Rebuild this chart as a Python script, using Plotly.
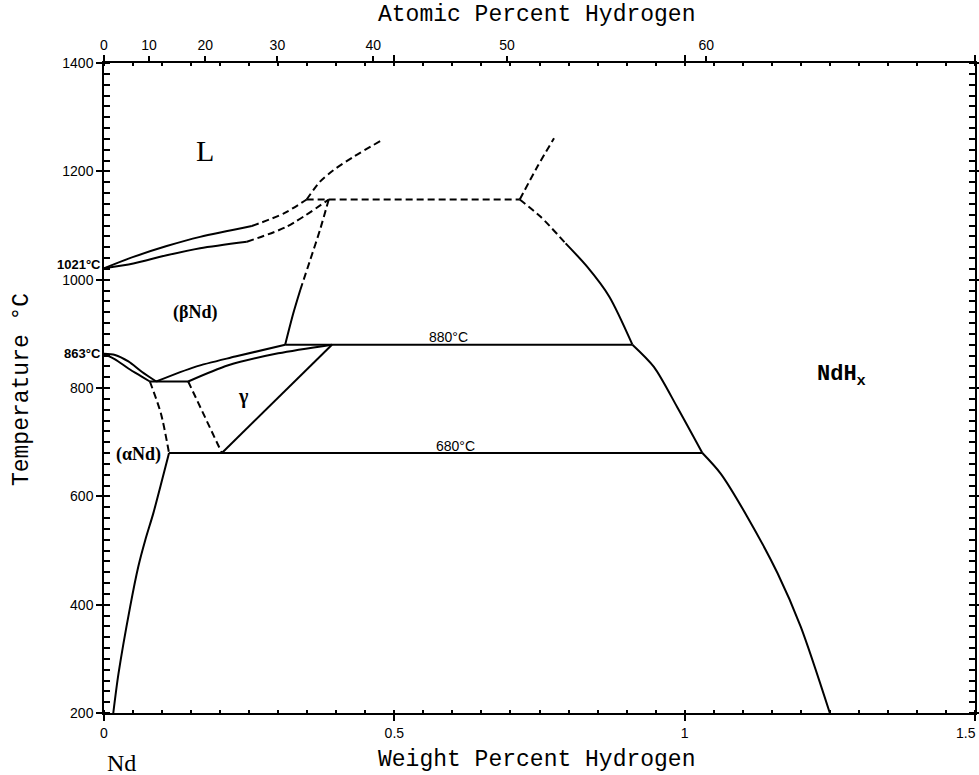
import plotly.graph_objects as go

# ---------------- data (weight % H, temperature °C) ----------------
liq_upper_solid_w = [0, 0.0506, 0.108, 0.1655, 0.2546]
liq_upper_solid_T = [1021, 1042, 1062, 1079, 1099]
liq_upper_dash_w = [0.2546, 0.309, 0.349]
liq_upper_dash_T = [1099, 1122, 1148]

sol_lower_solid_w = [0, 0.0506, 0.108, 0.1655, 0.246]
sol_lower_solid_T = [1021, 1030, 1045, 1058, 1070]
sol_lower_dash_w = [0.246, 0.315, 0.387]
sol_lower_dash_T = [1070, 1098, 1148]

liq_left_w = [0.349, 0.372, 0.395, 0.43, 0.476]
liq_left_T = [1148, 1181, 1202, 1227, 1256]
monotectic_w = [0.349, 0.716]
monotectic_T = [1148, 1148]
liq_right_w = [0.716, 0.746, 0.775]
liq_right_T = [1148, 1208, 1261]

beta_solvus_dash_w = [0.387, 0.372, 0.355, 0.338]
beta_solvus_dash_T = [1148, 1092, 1036, 981]
beta_solvus_solid_w = [0.338, 0.326, 0.312]
beta_solvus_solid_T = [981, 938, 880]

hydride_dash_w = [0.716, 0.752, 0.795]
hydride_dash_T = [1148, 1116, 1067]
hydride_upper_w = [0.795, 0.832, 0.87, 0.91]
hydride_upper_T = [1067, 1024, 969, 880]
hydride_mid_w = [0.91, 0.947, 0.987, 1.0305]
hydride_mid_T = [880, 839, 765, 680]
hydride_lower_w = [1.0305, 1.062, 1.108, 1.16, 1.2, 1.25]
hydride_lower_T = [680, 642, 562, 458, 359, 200]

iso880_w = [0.312, 0.91]
iso880_T = [880, 880]
iso680_w = [0.112, 1.0305]
iso680_T = [680, 680]
iso812_w = [0.079, 0.145]
iso812_T = [812, 812]

gamma_right_w = [0.3926, 0.203]
gamma_right_T = [880, 680]
beta_gamma_upper_w = [0.09, 0.157, 0.226, 0.312]
beta_gamma_upper_T = [812, 839, 858, 880]
beta_gamma_lower_w = [0.145, 0.214, 0.30, 0.3926]
beta_gamma_lower_T = [812, 842, 864, 880]

lens_upper_w = [0, 0.019, 0.042, 0.065, 0.09]
lens_upper_T = [863, 861, 849, 830, 812]
lens_lower_w = [0, 0.019, 0.042, 0.065, 0.079]
lens_lower_T = [863, 853, 836, 821, 812]

alpha_solvus_dash_w = [0.079, 0.098, 0.112]
alpha_solvus_dash_T = [812, 753, 680]
gamma_left_dash_w = [0.145, 0.203]
gamma_left_dash_T = [812, 680]
alpha_solvus_solid_w = [0.112, 0.100, 0.085, 0.071, 0.059, 0.045, 0.025, 0.016]
alpha_solvus_solid_T = [680, 630, 569, 519, 470, 396, 273, 200]

wt_tick_vals = [0, 0.5, 1, 1.5]
wt_tick_text = ["0", "0.5", "1", "1.5"]
temp_ticks = [200, 400, 600, 800, 1000, 1200, 1400]
at_pct_ticks = [0, 10, 20, 30, 40, 50, 60]

M_H, M_ND = 1.008, 144.24

solid = [
    (liq_upper_solid_w, liq_upper_solid_T),
    (sol_lower_solid_w, sol_lower_solid_T),
    (beta_solvus_solid_w, beta_solvus_solid_T),
    (hydride_upper_w, hydride_upper_T),
    (hydride_mid_w, hydride_mid_T),
    (hydride_lower_w, hydride_lower_T),
    (iso880_w, iso880_T),
    (iso680_w, iso680_T),
    (iso812_w, iso812_T),
    (gamma_right_w, gamma_right_T),
    (beta_gamma_upper_w, beta_gamma_upper_T),
    (beta_gamma_lower_w, beta_gamma_lower_T),
    (lens_upper_w, lens_upper_T),
    (lens_lower_w, lens_lower_T),
    (alpha_solvus_solid_w, alpha_solvus_solid_T),
]
dashed = [
    (liq_upper_dash_w, liq_upper_dash_T),
    (sol_lower_dash_w, sol_lower_dash_T),
    (liq_left_w, liq_left_T),
    (monotectic_w, monotectic_T),
    (liq_right_w, liq_right_T),
    (beta_solvus_dash_w, beta_solvus_dash_T),
    (hydride_dash_w, hydride_dash_T),
    (alpha_solvus_dash_w, alpha_solvus_dash_T),
    (gamma_left_dash_w, gamma_left_dash_T),
]

fig = go.Figure()
for w, T in solid:
    fig.add_trace(go.Scatter(x=w, y=T, mode="lines",
                             line=dict(color="black", width=2, shape="spline", smoothing=0.8),
                             showlegend=False, hoverinfo="skip"))
for w, T in dashed:
    fig.add_trace(go.Scatter(x=w, y=T, mode="lines",
                             line=dict(color="black", width=2, dash="7px,4px", shape="spline", smoothing=0.8),
                             showlegend=False, hoverinfo="skip"))

# top axis (atomic percent) positions converted to weight percent
at_pos = [100 * a * M_H / (a * M_H + (100 - a) * M_ND) for a in at_pct_ticks]
fig.add_trace(go.Scatter(x=[0, 1.5], y=[200, 200], xaxis="x2", mode="lines",
                         line=dict(color="rgba(0,0,0,0)"), showlegend=False, hoverinfo="skip"))

tickfont = dict(family="Liberation Sans", size=14, color="black")
fig.update_layout(
    width=979, height=775,
    margin=dict(l=104, r=4, t=63, b=62),
    paper_bgcolor="white", plot_bgcolor="white",
    xaxis=dict(range=[0, 1.5], tickvals=wt_tick_vals, ticktext=wt_tick_text, automargin=False,
               ticks="outside", ticklen=6, tickwidth=1.5, tickcolor="black",
               showline=True, linecolor="black", linewidth=1.5, mirror="allticks",
               showgrid=False, zeroline=False, tickfont=tickfont,
               minor=dict(dtick=0.05, tick0=0, ticks="inside", ticklen=3, tickcolor="black", showgrid=False)),
    xaxis2=dict(range=[0, 1.5], overlaying="x", side="top", tickvals=at_pos, automargin=False,
                ticktext=[str(a) for a in at_pct_ticks], ticks="outside", ticklen=6,
                tickwidth=1.5, tickcolor="black", showline=False, showgrid=False,
                zeroline=False, tickfont=tickfont),
    yaxis=dict(range=[200, 1400], tickvals=temp_ticks, ticks="outside", ticklen=6, automargin=False,
               tickwidth=1.5, tickcolor="black", showline=True, linecolor="black",
               linewidth=1.5, mirror="allticks", showgrid=False, zeroline=False,
               tickfont=tickfont,
               minor=dict(dtick=20, tick0=200, ticks="inside", ticklen=3, tickcolor="black", showgrid=False)),
)

mono = "Liberation Mono"
serif = "Liberation Serif"
ann = [
    dict(x=0.497, y=-0.072, xref="paper", yref="paper", xanchor="center", yanchor="middle",
         text="Weight Percent Hydrogen", font=dict(family=mono, size=23, color="black"), showarrow=False),
    dict(x=0.497, y=1.074, xref="paper", yref="paper", xanchor="center", yanchor="middle",
         text="Atomic Percent Hydrogen", font=dict(family=mono, size=23, color="black"), showarrow=False),
    dict(x=-0.094, y=0.497, xref="paper", yref="paper", xanchor="center", yanchor="middle",
         text="Temperature °C", textangle=-90,
         font=dict(family=mono, size=23, color="black"), showarrow=False),
    dict(x=0.02, y=-0.077, xref="paper", yref="paper", xanchor="center", yanchor="middle",
         text="Nd", font=dict(family=serif, size=24, color="black"), showarrow=False),
    dict(x=1.5, y=200, xanchor="right", yanchor="top", xshift=3, yshift=-10,
         text="1.5", font=tickfont, showarrow=False),
    dict(x=0.174, y=1239, text="L", font=dict(family=serif, size=30, color="black"), showarrow=False),
    dict(x=0.157, y=940, text="<b>(βNd)</b>", font=dict(family=serif, size=18, color="black"), showarrow=False),
    dict(x=0.06, y=678, text="<b>(αNd)</b>", font=dict(family=serif, size=18, color="black"), showarrow=False),
    dict(x=0.24, y=785, text="<b>γ</b>", font=dict(family=serif, size=20, color="black"), showarrow=False),
    dict(x=0.593, y=894, text="880°C", font=dict(family="Liberation Sans", size=14, color="black"), showarrow=False),
    dict(x=0.605, y=693, text="680°C", font=dict(family="Liberation Sans", size=14, color="black"), showarrow=False),
    dict(x=1.27, y=822, text="<b>NdH<sub>x</sub></b>", font=dict(family=mono, size=22, color="black"), showarrow=False),
    dict(x=0, y=1021, text="<b>1021°C</b>", xanchor="right", xshift=-1, yshift=4,
         font=dict(family="Liberation Sans", size=13, color="black"), showarrow=False),
    dict(x=0, y=863, text="<b>863°C</b>", xanchor="right", xshift=-1,
         font=dict(family="Liberation Sans", size=13, color="black"), showarrow=False),
]
fig.update_layout(annotations=ann)

fig.write_html("out.html", config={"displayModeBar": False},
               post_script="document.body.style.margin='0';document.body.style.overflow='hidden';")
